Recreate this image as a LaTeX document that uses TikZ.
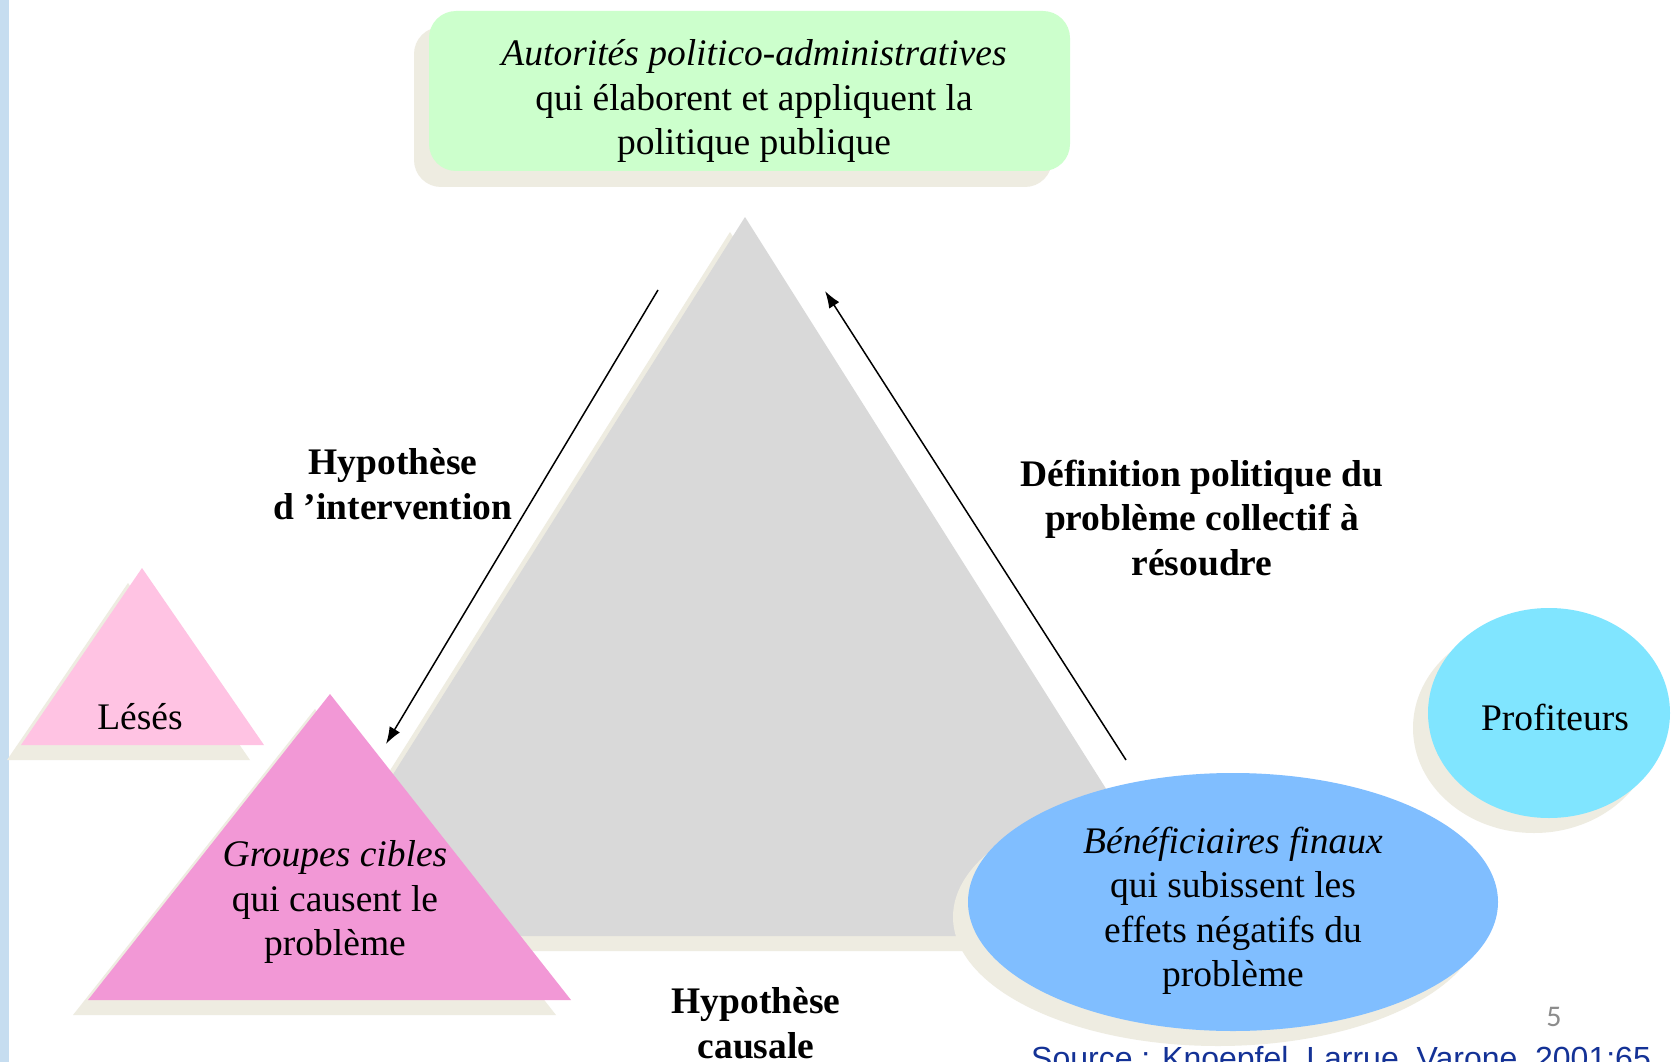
\documentclass[tikz,border=0pt]{standalone}
\usepackage{fontspec}
\setmainfont{Liberation Serif}
\newfontfamily\arialf{Liberation Sans}
\newfontfamily\calib{Carlito}
\usetikzlibrary{arrows.meta}
\definecolor{shadowc}{HTML}{EEECE1}
\definecolor{greenc}{HTML}{CCFFCC}
\definecolor{grayc}{HTML}{D9D9D9}
\definecolor{pinklight}{HTML}{FFC3E3}
\definecolor{pinkc}{HTML}{F298D6}
\definecolor{bluec}{HTML}{80BEFF}
\definecolor{cyanc}{HTML}{80E5FF}
\definecolor{stripec}{HTML}{C6DDF0}
\definecolor{srcblue}{RGB}{20,50,150}
\tikzset{
  txt/.style={align=center, inner sep=0pt, font=\fontsize{37.5}{44.5}\selectfont},
  lbl/.style={align=center, inner sep=0pt, font=\fontsize{37.5}{44.5}\selectfont\bfseries},
  conn/.style={line width=1.5pt, -{Latex[length=17pt,width=12pt]}},
}
\begin{document}
\begin{tikzpicture}[x=1pt,y=-1pt]
\useasboundingbox (0,0) rectangle (1674,1062);
\clip (0,0) rectangle (1674,1062);
\fill[white] (0,0) rectangle (1674,1062);
\fill[stripec] (0,0) rectangle (9,1062);
% big gray triangle
\fill[shadowc] (730,232) -- (276,951) -- (1184,951) -- cycle;
\fill[grayc] (745,217) -- (291,936) -- (1199,936) -- cycle;
% Leses triangle
\fill[shadowc] (128,583) -- (7,760) -- (250,760) -- cycle;
\fill[pinklight] (142,568) -- (21,745) -- (264,745) -- cycle;
\node[txt] (leses) at (140,717) {Lésés};
% Groupes cibles triangle
\fill[shadowc] (315,709) -- (73,1015) -- (556,1015) -- cycle;
\fill[pinkc] (330,694) -- (88,1000) -- (571,1000) -- cycle;
\node[txt] (groupes) at (335,902) {\itshape Groupes cibles\\qui causent le\\problème};
% Beneficiaires ellipse
\fill[shadowc] (1218,917) ellipse [x radius=265, y radius=129];
\fill[bluec] (1233,902) ellipse [x radius=265, y radius=129];
\node[txt] (benef) at (1233,911) {\itshape Bénéficiaires finaux\\qui subissent les\\effets négatifs du\\problème};
% Profiteurs
\fill[shadowc] (1534,728) ellipse [x radius=121, y radius=105];
\fill[cyanc] (1549,713) ellipse [x radius=121, y radius=105];
\node[txt] (profit) at (1555,717) {Profiteurs};
% Autorites box
\fill[shadowc, rounded corners=27pt] (414,27) rectangle (1052,187);
\fill[greenc, rounded corners=27pt] (429,11) rectangle (1070,171);
\node[txt] (auto) at (754,101) {\itshape Autorités politico-administratives\\qui élaborent et appliquent la\\politique publique};
% arrows
\coordinate (a1s) at (658,290);
\coordinate (a1e) at (386,744);
\coordinate (a2s) at (1126,760);
\coordinate (a2e) at (825,291);
\draw[conn] (a1s) -- (a1e);
\draw[conn] (a2s) -- (a2e);
% labels
\node[lbl] (hypint) at (393,484) {Hypothèse\\d ’intervention};
\node[lbl] (defpol) at (1202,518) {Définition politique du\\problème collectif à\\résoudre};
\node[lbl] (hypcaus) at (756,1023) {Hypothèse\\causale};
\node[inner sep=0pt, text=black!45, font=\calib\fontsize{30}{36}\selectfont] (num) at (1554,1017) {5};
\node[anchor=base west, inner sep=0pt, text=srcblue, font=\arialf\fontsize{32}{38}\selectfont] (src) at (1031,1069) {Source : Knoepfel, Larrue, Varone, 2001:65};
\end{tikzpicture}
\end{document}
